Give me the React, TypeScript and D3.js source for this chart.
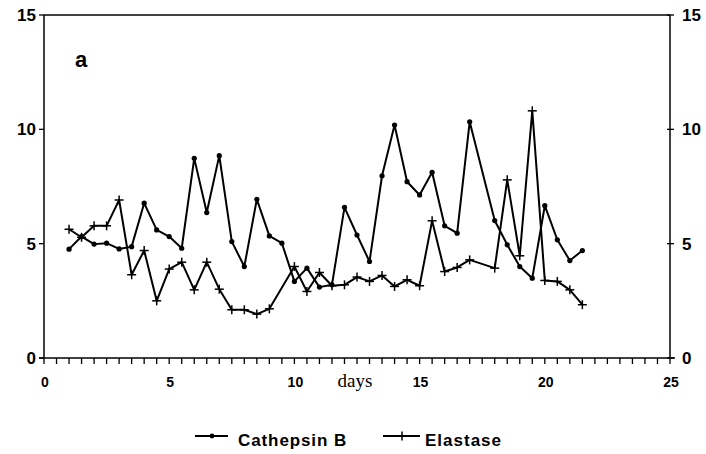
import React from "react";
import * as d3 from "d3";

const cathepsinDays = [1,1.5,2,2.5,3,3.5,4,4.5,5,5.5,6,6.5,7,7.5,8,8.5,9,9.5,10,10.5,11,11.5,12,12.5,13,13.5,14,14.5,15,15.5,16,16.5,17,18,18.5,19,19.5,20,20.5,21,21.5];
const cathepsinValues = [4.76,5.31,4.98,5.02,4.77,4.87,6.77,5.6,5.31,4.8,8.73,6.36,8.85,5.09,4.0,6.94,5.34,5.02,3.35,3.93,3.1,3.2,6.59,5.38,4.22,7.97,10.19,7.71,7.13,8.12,5.78,5.46,10.33,6.01,4.95,4.0,3.49,6.66,5.17,4.26,4.7];

const elastaseDays = [1,1.5,2,2.5,3,3.5,4,4.5,5,5.5,6,6.5,7,7.5,8,8.5,9,10,10.5,11,11.5,12,12.5,13,13.5,14,14.5,15,15.5,16,16.5,17,18,18.5,19,19.5,20,20.5,21,21.5];
const elastaseValues = [5.63,5.28,5.78,5.78,6.91,3.64,4.7,2.5,3.89,4.19,2.98,4.19,3.01,2.11,2.11,1.92,2.15,4.0,2.91,3.74,3.16,3.2,3.54,3.35,3.61,3.13,3.42,3.16,6.0,3.78,3.96,4.29,3.93,7.79,4.47,10.81,3.39,3.35,2.98,2.33];

const xTickLabels = [0, 5, 10, 15, 20, 25];
const yTickLabels = [0, 5, 10, 15];
const seriesNames = ["Cathepsin B", "Elastase"];

export default function App() {
  const W = 706, H = 454;
  const x = d3.scaleLinear().domain([0, 25]).range([44, 670]);
  const y = d3.scaleLinear().domain([0, 15]).range([358, 15]);
  const line = d3.line<[number, number]>().x(d => x(d[0])).y(d => y(d[1]));
  const cat: [number, number][] = cathepsinDays.map((d, i) => [d, cathepsinValues[i]]);
  const ela: [number, number][] = elastaseDays.map((d, i) => [d, elastaseValues[i]]);
  const minor = d3.range(0, 25.001, 0.5);
  const numFont = "'Liberation Sans', Arial, sans-serif";
  const cs = 4.5;
  const ly = 436;

  return (
    <svg width={W} height={H} style={{ position: "absolute", left: 0, top: 0, background: "#fff" }}>
      <rect x={0} y={0} width={W} height={H} fill="#fff" />
      {/* frame */}
      <line x1={x(0)} x2={x(25)} y1={y(15)} y2={y(15)} stroke="#000" strokeWidth={1.5} />
      <line x1={x(0)} x2={x(0)} y1={y(0)} y2={y(15)} stroke="#000" strokeWidth={1.5} />
      <line x1={x(25)} x2={x(25)} y1={y(0)} y2={y(15)} stroke="#000" strokeWidth={1.5} />
      <line x1={x(0) - 5} x2={x(25) + 5} y1={y(0)} y2={y(0)} stroke="#000" strokeWidth={1.5} />
      {minor.map(t => (
        <line key={t} x1={x(t)} x2={x(t)} y1={y(0)} y2={y(0) + 6} stroke="#000" strokeWidth={1.3} />
      ))}
      {yTickLabels.map(t => (
        <g key={t}>
          <line x1={x(0) - 5} x2={x(0)} y1={y(t)} y2={y(t)} stroke="#000" strokeWidth={1.3} />
          <line x1={x(25) - 3} x2={x(25) + 4} y1={y(t)} y2={y(t)} stroke="#000" strokeWidth={1.3} />
          <text x={x(0) - 8} y={y(t)} dy="0.36em" textAnchor="end" fontFamily={numFont} fontWeight="bold" fontSize={17}>{t}</text>
          <text x={x(25) + 12} y={y(t)} dy="0.36em" textAnchor="start" fontFamily={numFont} fontWeight="bold" fontSize={17}>{t}</text>
        </g>
      ))}
      {xTickLabels.map(t => (
        <text key={t} x={x(t) + 1} y={387} textAnchor="middle" fontFamily={numFont} fontWeight="bold" fontSize={14}>{t}</text>
      ))}
      <text x={355} y={387} textAnchor="middle" fontFamily="'Liberation Serif', serif" fontSize={19}>days</text>
      <text x={75} y={67} fontFamily={numFont} fontWeight="bold" fontSize={22}>a</text>

      {/* series */}
      <path d={line(cat) || ""} fill="none" stroke="#000" strokeWidth={2} strokeLinejoin="round" />
      <path d={line(ela) || ""} fill="none" stroke="#000" strokeWidth={2} strokeLinejoin="round" />
      {cat.map((d, i) => (
        <circle key={i} cx={x(d[0])} cy={y(d[1])} r={2.6} fill="#000" />
      ))}
      {ela.map((d, i) => (
        <g key={i} stroke="#000" strokeWidth={1.5}>
          <line x1={x(d[0]) - cs} x2={x(d[0]) + cs} y1={y(d[1])} y2={y(d[1])} />
          <line x1={x(d[0])} x2={x(d[0])} y1={y(d[1]) - cs} y2={y(d[1]) + cs} />
        </g>
      ))}

      {/* legend */}
      <g>
        <line x1={195} x2={228} y1={ly} y2={ly} stroke="#000" strokeWidth={2} />
        <circle cx={212} cy={ly} r={2.4} fill="#000" />
        <text x={238} y={446} fontFamily={numFont} fontWeight="bold" fontSize={17} letterSpacing={0.9}>{seriesNames[0]}</text>
        <line x1={383} x2={420} y1={ly} y2={ly} stroke="#000" strokeWidth={2} />
        <line x1={402} x2={402} y1={ly - cs} y2={ly + cs} stroke="#000" strokeWidth={1.5} />
        <text x={425} y={446} fontFamily={numFont} fontWeight="bold" fontSize={17} letterSpacing={1}>{seriesNames[1]}</text>
      </g>
    </svg>
  );
}
